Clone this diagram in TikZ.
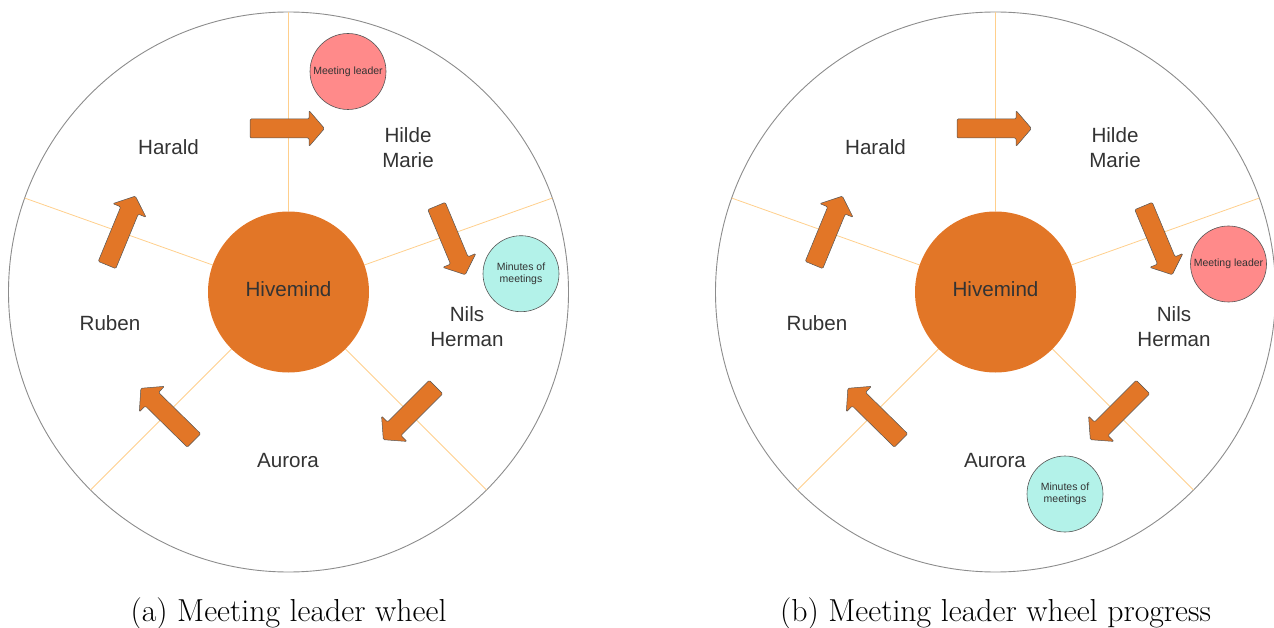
\documentclass[tikz,border=0pt]{standalone}
\usepackage{fontspec}
\newfontfamily\wheelsans{Liberation Sans}
\definecolor{hubOrange}{HTML}{E27627}
\definecolor{spokeOrange}{HTML}{FFCF8C}
\definecolor{rimGray}{HTML}{8C8C8C}
\definecolor{textGray}{HTML}{333333}
\definecolor{edgeGray}{HTML}{555555}
\definecolor{leaderPink}{HTML}{FF8A8A}
\definecolor{minutesCyan}{HTML}{B3F2E9}

% One wheel of the rotation: rim, five spokes, hub, turn arrows and names.
% #1 is a prefix that keeps the node names of each wheel apart.
\newcommand{\meetingwheel}[1]{%
  \draw[rim] (0,0) circle[radius=280];
  \foreach \a in {-90,-19.6,45,135,-160.4}
    \draw[spoke] (\a:80.5) -- (\a:280);
  \node[hub] (#1hub) at (0,0) {};
  \node[person] (#1hivemind) at (0,-3) {Hivemind};
  \pic[rotate=0]     at (-38.5,-163.5) {turnarrow};
  \pic[rotate=67.6]  at (-181.5,-27)   {turnarrow};
  \pic[rotate=-67.3] at (148,-86)      {turnarrow};
  \pic[rotate=225]   at (147.5,95)     {turnarrow};
  \pic[rotate=135.5] at (-94.5,148.5)  {turnarrow};
  \node[person] (#1harald) at (-120,-145)  {Harald};
  \node[person] (#1hilde)  at (119.5,-144.5) {Hilde\\Marie};
  \node[person] (#1nils)   at (178.5,34.5) {Nils\\Herman};
  \node[person] (#1aurora) at (-0.5,168.5) {Aurora};
  \node[person] (#1ruben)  at (-178.5,31)  {Ruben};
}

\begin{document}
\begin{tikzpicture}[x=1pt,y=-1pt,
  rim/.style={draw=rimGray, line width=0.9pt},
  spoke/.style={draw=spokeOrange, line width=0.8pt},
  hub/.style={circle, fill=hubOrange, minimum size=161pt, inner sep=0pt},
  person/.style={font=\wheelsans\fontsize{20.6}{25}\selectfont, text=textGray,
    align=center, inner sep=0pt},
  token/.style={circle, draw=edgeGray, line width=0.6pt, minimum size=76pt,
    inner sep=0pt, align=center, text=textGray,
    font=\wheelsans\fontsize{10.5}{12}\selectfont},
  leader/.style={token, fill=leaderPink},
  minutes/.style={token, fill=minutesCyan},
  figcap/.style={font=\fontsize{31.8}{38}\selectfont, anchor=base, inner sep=0pt},
  arrowbody/.style={fill=hubOrange, draw=edgeGray, line width=0.5pt,
    rounded corners=1.2pt},
  pics/turnarrow/.style={code={
    \draw[arrowbody] (0,-9.5) -- (59,-9.5) -- (59,-18) -- (74.5,0)
      -- (59,18) -- (59,9.5) -- (0,9.5) -- cycle;}},
]
\useasboundingbox (0,0) rectangle (1274,628);

% (a) the wheel at the start
\begin{scope}[shift={(288.5,292)}]
  \meetingwheel{a}
  \node[leader]  (aleader)  at (59.5,-220.5) {Meeting leader};
  \node[minutes] (aminutes) at (232.5,-18.3) {Minutes of\\meetings};
\end{scope}
\node[figcap] (acap) at (288.5,621.7) {(a) Meeting leader wheel};

% (b) the wheel after one turn
\begin{scope}[shift={(995.5,292)}]
  \meetingwheel{b}
  \node[leader]  (bleader)  at (233,-28) {Meeting leader};
  \node[minutes] (bminutes) at (69.5,202) {Minutes of\\meetings};
\end{scope}
\node[figcap] (bcap) at (995.5,621.7) {(b) Meeting leader wheel progress};
\end{tikzpicture}
\end{document}
